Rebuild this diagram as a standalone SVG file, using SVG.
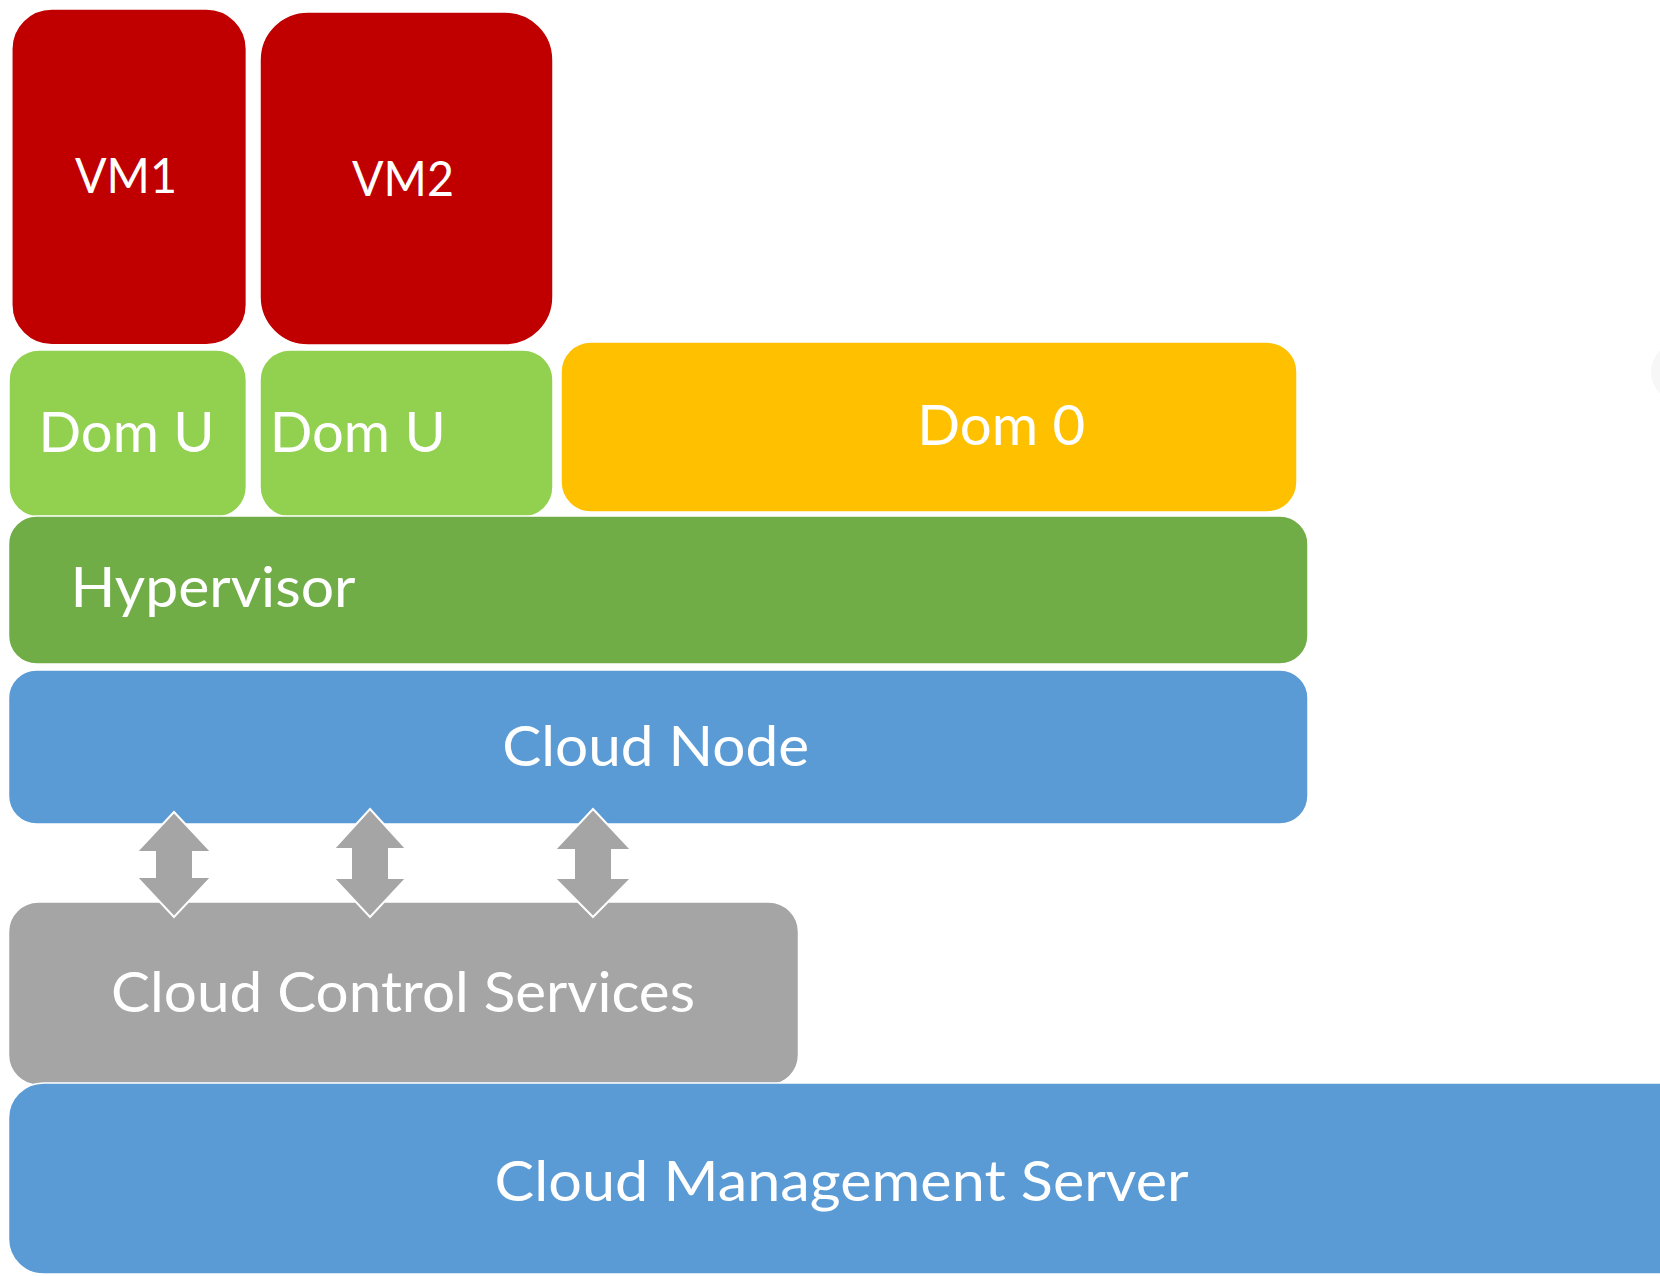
<svg xmlns="http://www.w3.org/2000/svg" width="1660" height="1276" viewBox="0 0 1660 1276">
<style>
.box{stroke:#ffffff;stroke-width:1.5}
.lbl{font-family:Lato,"Open Sans","Liberation Sans",sans-serif;fill:#ffffff;text-anchor:middle}
.big{font-size:56px}
.vm{font-size:49px}
.arr{fill:#a5a5a5;stroke:#ffffff;stroke-width:2;stroke-linejoin:miter}
</style>
<rect x="0" y="0" width="1660" height="1276" fill="#ffffff"/>
<circle cx="1681" cy="372" r="30" fill="#f7f7f7"/>
<g id="vm1"><rect class="box" x="11.8" y="9" width="234.6" height="335.8" rx="40" fill="#c00000"/><text class="lbl vm" x="126" y="193.4" textLength="102" lengthAdjust="spacingAndGlyphs">VM1</text></g>
<g id="vm2"><rect class="box" x="260" y="12" width="293" height="333" rx="48" fill="#c00000"/><text class="lbl vm" x="403" y="196" textLength="102" lengthAdjust="spacingAndGlyphs">VM2</text></g>
<g id="domu1"><rect class="box" x="9" y="350" width="237.4" height="167" rx="30" fill="#92d050"/><text class="lbl big" x="126.5" y="452" textLength="176" lengthAdjust="spacingAndGlyphs">Dom U</text></g>
<g id="domu2"><rect class="box" x="260" y="350" width="293" height="167" rx="30" fill="#92d050"/><text class="lbl big" x="357.7" y="452" textLength="176" lengthAdjust="spacingAndGlyphs">Dom U</text></g>
<g id="dom0"><rect class="box" x="561" y="342" width="736" height="170" rx="30" fill="#ffc000"/><text class="lbl big" x="1001.3" y="445" textLength="168" lengthAdjust="spacingAndGlyphs">Dom 0</text></g>
<g id="hypervisor"><rect class="box" x="8.5" y="516" width="1299.5" height="148" rx="28" fill="#70ad47"/><text class="lbl big" x="213" y="607" textLength="285" lengthAdjust="spacingAndGlyphs">Hypervisor</text></g>
<g id="cloudnode"><rect class="box" x="8.5" y="670" width="1299.5" height="154" rx="28" fill="#5b9bd5"/><text class="lbl big" x="655.7" y="766" textLength="307" lengthAdjust="spacingAndGlyphs">Cloud Node</text></g>
<g id="ccs"><rect class="box" x="8.5" y="902" width="790" height="183" rx="30" fill="#a5a5a5"/><text class="lbl big" x="403" y="1012" textLength="584" lengthAdjust="spacingAndGlyphs">Cloud Control Services</text></g>
<g id="cms"><rect class="box" x="8.5" y="1083" width="1690" height="191" rx="35" fill="#5b9bd5"/><text class="lbl big" x="841.6" y="1201" textLength="694" lengthAdjust="spacingAndGlyphs">Cloud Management Server</text></g>
<g id="connectors">
<path class="arr" d="M174,812 L211.5,852 L193,852 L193,877 L211.5,877 L174,917 L136.5,877 L155,877 L155,852 L136.5,852 Z"/>
<path class="arr" d="M370,809 L406.5,849 L389,849 L389,878 L406.5,878 L370,917 L333.5,878 L351,878 L351,849 L333.5,849 Z"/>
<path class="arr" d="M593,809 L631.5,850 L612,850 L612,878 L631.5,878 L593,917 L554.5,878 L574,878 L574,850 L554.5,850 Z"/>
</g>
</svg>
